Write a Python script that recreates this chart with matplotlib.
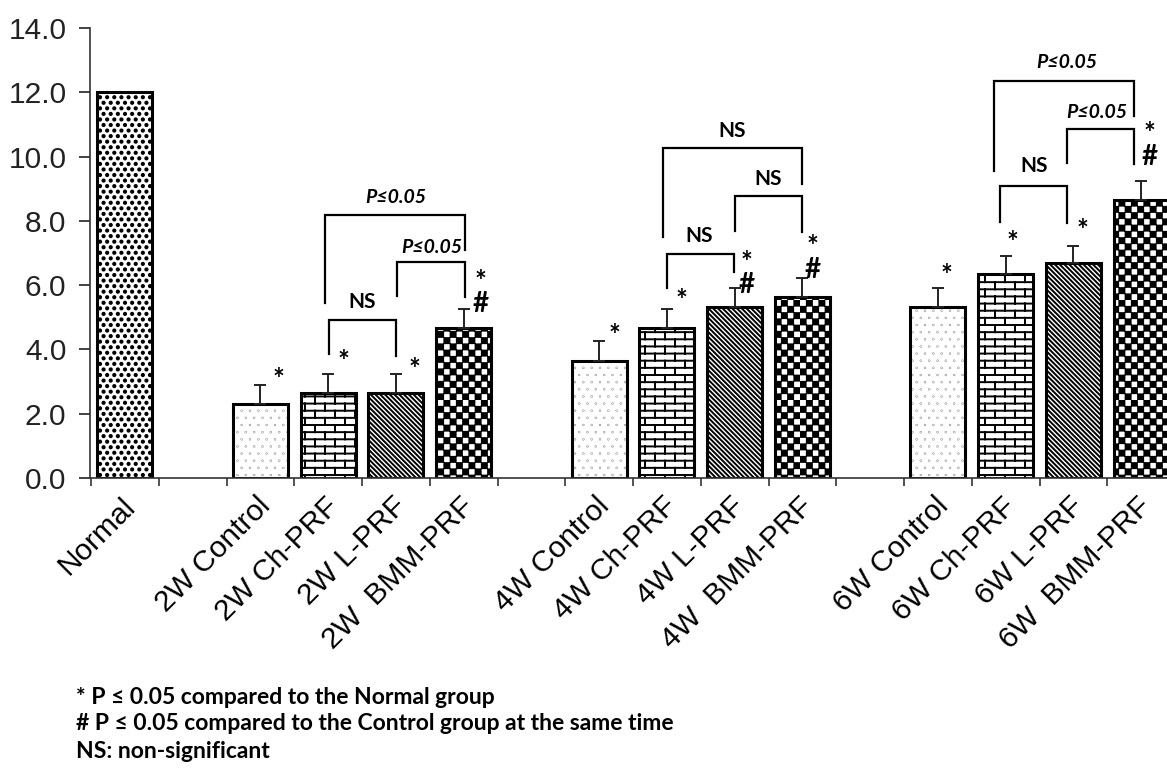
import numpy as np
import matplotlib
matplotlib.use('Agg')
import matplotlib.pyplot as plt
import matplotlib.transforms as mtransforms
from matplotlib import hatch as mhatch
from matplotlib.path import Path

# Данные
labels = ['Normal',
          '2W Control', '2W Ch-PRF', '2W L-PRF', '2W  BMM-PRF',
          '4W Control', '4W Ch-PRF', '4W L-PRF', '4W  BMM-PRF',
          '6W Control', '6W Ch-PRF', '6W L-PRF', '6W  BMM-PRF']
positions = [0, 2, 3, 4, 5, 7, 8, 9, 10, 12, 13, 14, 15]
values = [12.0, 2.30, 2.65, 2.65, 4.67, 3.65, 4.67, 5.33, 5.64, 5.33, 6.36, 6.70, 8.66]
errors = [0.0, 0.60, 0.60, 0.60, 0.60, 0.62, 0.60, 0.59, 0.59, 0.59, 0.56, 0.53, 0.59]
diag = '\\' * 7
patterns = ['o', '.', 'O', diag, '*', '.', 'O', diag, '*', '.', 'O', diag, '*']

# звёздочки и решётки над столбцами (None - нет значка)
star_y = [None, 3.30, 3.86, 3.64, 6.26, 4.67, 5.76, 6.85, 7.32, 6.54, 7.57, 7.94, 10.75]
hash_y = [None, None, None, None, 5.48, None, None, 6.07, 6.54, None, None, None, 10.06]
mark_dx = [0, 0.27, 0.23, 0.28, 0.25, 0.22, 0.22, 0.18, 0.15, 0.13, 0.10, 0.13, 0.13]

# скобки сравнения: левый x, правый x, верх, низ слева, низ справа, подпись, x и y подписи
br_x1 = [3.01, 4.01, 2.95, 8.00, 9.00, 7.94, 12.92, 13.90, 12.83]
br_x2 = [4.00, 5.02, 5.02, 8.99, 10.0, 10.0, 13.90, 14.90, 14.90]
br_top = [4.92, 6.73, 8.19, 6.98, 8.78, 10.28, 9.07, 10.87, 12.34]
br_lb = [3.86, 5.67, 5.45, 5.92, 7.69, 7.50, 7.97, 9.81, 9.56]
br_rb = [3.80, 5.64, 7.10, 6.42, 7.66, 9.15, 7.94, 9.78, 11.25]
br_text = ['NS', 'P≤0.05', 'P≤0.05', 'NS', 'NS', 'NS', 'NS', 'P≤0.05', 'P≤0.05']
br_tx = [3.50, 4.53, 4.00, 8.47, 9.50, 8.96, 13.42, 14.35, 13.90]
br_ty = [5.48, 7.17, 8.72, 7.54, 9.31, 10.80, 9.72, 11.37, 12.93]

notes = ['* P ≤ 0.05 compared to the Normal group',
         '# P ≤ 0.05 compared to the Control group at the same time',
         'NS: non-significant']


# Свои штриховки: точки, кирпичи, шахматка
class DotGrid(mhatch.HatchPatternBase):
    char = ''
    cols = 10
    rows = 10
    radius = 0.01

    def __init__(self, hatch, density):
        self.centers = []
        if self.char in hatch:
            for j in range(self.rows):
                y = (j + 0.5) / self.rows
                shift = 0.5 * (j % 2)
                for i in range(self.cols + 1):
                    x = (i + shift) / self.cols
                    if x <= 1.0:
                        self.centers.append((x, y))
        circle = Path.unit_circle()
        self.cv = circle.vertices
        self.cc = circle.codes
        self.num_vertices = len(self.centers) * len(self.cv)

    def set_vertices_and_codes(self, vertices, codes):
        n = len(self.cv)
        for k, (x, y) in enumerate(self.centers):
            vertices[k * n:(k + 1) * n] = self.cv * self.radius + (x, y)
            codes[k * n:(k + 1) * n] = self.cc


class NormalDots(DotGrid):
    char = 'o'
    cols = 14
    rows = 18
    radius = 0.011


class ControlDots(DotGrid):
    char = '.'
    cols = 12
    rows = 14
    radius = 0.001


class BrickHatch(mhatch.HatchPatternBase):
    rows = 14
    cols = 5

    def __init__(self, hatch, density):
        self.segs = []
        if 'O' in hatch:
            for k in range(self.rows):
                y0 = (k + 0.5) / self.rows
                y1 = y0 + 1.0 / self.rows
                self.segs.append(((0, y0), (1, y0)))
                for m in range(self.cols):
                    x = (m + 0.25 + 0.5 * (k % 2)) / self.cols
                    if y1 <= 1.0:
                        self.segs.append(((x, y0), (x, y1)))
                    else:
                        self.segs.append(((x, y0), (x, 1.0)))
                        self.segs.append(((x, 0.0), (x, y1 - 1.0)))
        self.num_vertices = 2 * len(self.segs)

    def set_vertices_and_codes(self, vertices, codes):
        for k, (a, b) in enumerate(self.segs):
            vertices[2 * k] = a
            vertices[2 * k + 1] = b
            codes[2 * k] = Path.MOVETO
            codes[2 * k + 1] = Path.LINETO


class CheckerHatch(mhatch.HatchPatternBase):
    n = 16
    inset = 0.006

    def __init__(self, hatch, density):
        self.cells = []
        if '*' in hatch:
            for i in range(self.n):
                for j in range(self.n):
                    if (i + j) % 2 == 0:
                        self.cells.append((i, j))
        self.num_vertices = 5 * len(self.cells)

    def set_vertices_and_codes(self, vertices, codes):
        s = 1.0 / self.n
        d = self.inset
        for k, (i, j) in enumerate(self.cells):
            x0, y0 = i * s + d, j * s + d
            x1, y1 = (i + 1) * s - d, (j + 1) * s - d
            vertices[5 * k:5 * k + 5] = [(x0, y0), (x1, y0), (x1, y1), (x0, y1), (x0, y0)]
            codes[5 * k:5 * k + 5] = [Path.MOVETO, Path.LINETO, Path.LINETO,
                                      Path.LINETO, Path.CLOSEPOLY]


mhatch._hatch_types[:] = [mhatch.HorizontalHatch, mhatch.VerticalHatch,
                          mhatch.NorthEastHatch, mhatch.SouthEastHatch,
                          NormalDots, ControlDots, BrickHatch, CheckerHatch]

plt.rcParams['hatch.linewidth'] = 1.4
plt.rcParams['font.family'] = ['Liberation Sans', 'DejaVu Sans']
ann_font = ['Lato', 'DejaVu Sans']

# Построение графика
fig = plt.figure(figsize=(11.67, 7.74), dpi=100)
ax = fig.add_axes([90 / 1167, 1 - 478 / 774, (1175 - 90) / 1167, 450 / 774])

bars = ax.bar(positions, values, width=0.81, color='white', edgecolor='black',
              linewidth=2.2, zorder=2)
for b, p in zip(bars, patterns):
    b.set_hatch(p)

ax.errorbar(positions[1:], values[1:], yerr=[np.zeros(len(errors) - 1), errors[1:]],
            fmt='none', ecolor='#222222', elinewidth=1.4, capsize=4.3, capthick=1.4,
            zorder=3)

# значки * и # (одним текстом, если оба)
fs_mark = 20
star_tr = mtransforms.offset_copy(ax.transData, fig=fig, y=-0.775 * fs_mark, units='points')
hash_tr = mtransforms.offset_copy(ax.transData, fig=fig, y=-0.56 * fs_mark, units='points')
for i in range(len(positions)):
    x = positions[i] + mark_dx[i]
    if hash_y[i] is not None:
        ax.text(x, hash_y[i], '*\n#', ha='center', va='bottom', linespacing=0.85,
                fontsize=fs_mark, fontweight='bold', family=ann_font, transform=hash_tr)
    elif star_y[i] is not None:
        ax.text(x, star_y[i], '*', ha='center', va='bottom',
                fontsize=fs_mark, fontweight='bold', family=ann_font, transform=star_tr)

# скобки
for k in range(len(br_x1)):
    ax.plot([br_x1[k], br_x1[k], br_x2[k], br_x2[k]],
            [br_lb[k], br_top[k], br_top[k], br_rb[k]],
            color='black', lw=1.6, solid_joinstyle='miter', zorder=3)
    style = 'italic' if br_text[k].startswith('P') else 'normal'
    ax.text(br_tx[k], br_ty[k], br_text[k], ha='center', va='center',
            fontsize=15 if style == 'normal' else 14, fontweight='bold',
            fontstyle=style, family=ann_font)

# Оси
ax.set_xlim(-0.515, 15.5)
ax.set_ylim(0, 14)
ax.set_yticks(np.arange(0, 14.1, 2))
ax.set_yticklabels([f'{v:.1f}' for v in np.arange(0, 14.1, 2)], fontsize=21.5)
ax.tick_params(axis='y', length=8, width=1.2, pad=9, colors='#222222')
ax.set_xticks(positions)
ax.set_xticklabels(labels, fontsize=21.5, rotation=45, ha='right', rotation_mode='anchor')
ax.tick_params(axis='x', which='major', length=0, pad=10)
ax.set_xticks(np.arange(-0.5, 16, 1), minor=True)
ax.tick_params(axis='x', which='minor', length=6, width=1.2, color='#333333')
offset = mtransforms.ScaledTranslation(-4 / 100, 0, fig.dpi_scale_trans)
for lab in ax.get_xticklabels():
    lab.set_transform(lab.get_transform() + offset)

for side in ['top', 'right']:
    ax.spines[side].set_visible(False)
for side in ['left', 'bottom']:
    ax.spines[side].set_linewidth(1.2)
    ax.spines[side].set_color('#333333')

# Пояснения внизу
for k, line in enumerate(notes):
    fig.text(76 / 1167, 1 - (697 + 27 * k) / 774, line, fontsize=16.5, fontweight='bold',
             family=ann_font, va='center', ha='left')

plt.savefig('out.png', dpi=100)
